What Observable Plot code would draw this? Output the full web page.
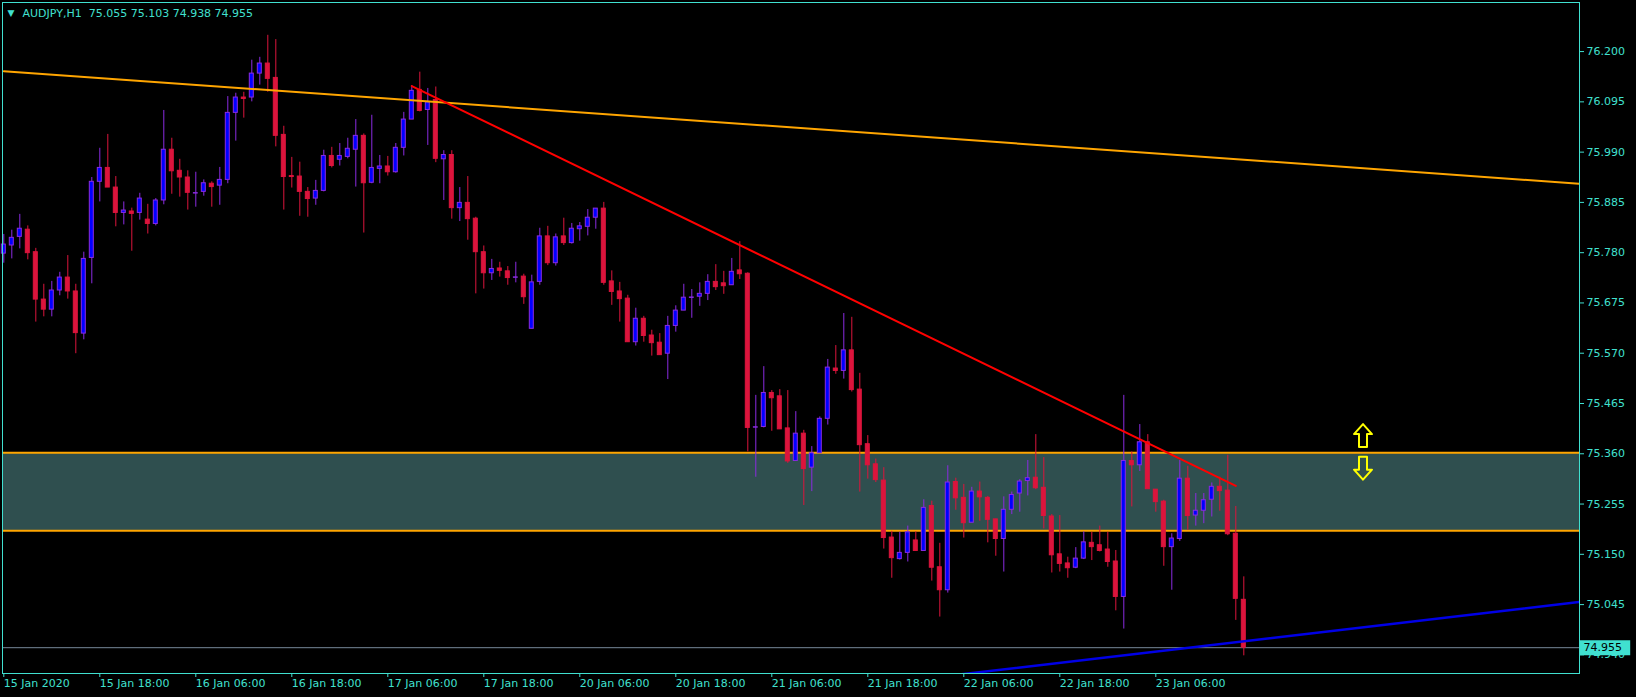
<!DOCTYPE html>
<html><head><meta charset="utf-8">
<script src="https://cdn.jsdelivr.net/npm/d3@7"></script>
<script src="https://cdn.jsdelivr.net/npm/@observablehq/plot@0.6"></script>
<style>
html,body{margin:0;padding:0;background:#000;overflow:hidden}
#chart{width:1636px;height:697px}
</style></head><body><div id="chart"></div>
<script>
// ---- data ----
const symbol = "AUDJPY,H1";
const opens = [75.778,75.795,75.813,75.828,75.781,75.682,75.661,75.701,75.728,75.699,75.611,75.769,75.928,75.957,75.916,75.863,75.866,75.863,75.849,75.840,
75.889,75.995,75.951,75.937,75.905,75.907,75.924,75.920,75.932,76.072,76.104,76.104,76.154,76.175,76.145,76.026,75.940,75.939,75.907,75.893,
75.909,75.982,75.974,75.980,75.995,76.024,75.926,75.955,75.960,75.948,75.999,76.058,76.120,76.078,76.099,75.975,75.984,75.873,75.884,75.851,
75.781,75.737,75.747,75.741,75.729,75.730,75.621,75.719,75.814,75.758,75.814,75.800,75.829,75.834,75.853,75.872,75.720,75.699,75.684,75.593,
75.642,75.607,75.592,75.569,75.627,75.659,75.687,75.688,75.694,75.719,75.716,75.712,75.743,75.736,75.416,75.416,75.487,75.480,75.413,75.345,
75.402,75.331,75.361,75.433,75.538,75.533,75.576,75.494,75.380,75.338,75.304,75.185,75.140,75.153,75.179,75.157,75.251,75.123,75.075,75.301,
75.268,75.216,75.281,75.268,75.223,75.182,75.243,75.277,75.303,75.310,75.289,75.229,75.150,75.131,75.122,75.141,75.174,75.169,75.160,75.135,
75.061,75.345,75.336,75.384,75.285,75.260,75.165,75.182,75.308,75.231,75.241,75.264,75.291,75.283,75.193,75.055];
const highs = [75.818,75.827,75.860,75.836,75.789,75.714,75.720,75.739,75.774,75.714,75.781,75.937,75.998,76.027,75.939,75.886,75.873,75.904,75.881,75.893,
76.077,76.019,75.975,75.951,75.948,75.932,75.928,75.958,76.106,76.113,76.115,76.182,76.188,76.234,76.225,76.044,75.979,75.969,75.916,75.931,
75.994,76.000,76.008,76.019,76.058,76.028,76.067,75.983,75.981,76.008,76.073,76.129,76.157,76.123,76.126,75.993,75.993,75.916,75.939,75.854,
75.794,75.766,75.760,75.751,75.760,75.735,75.733,75.831,75.835,75.819,75.852,75.841,75.843,75.870,75.872,75.885,75.742,75.718,75.691,75.664,
75.647,75.618,75.611,75.647,75.669,75.714,75.703,75.717,75.734,75.755,75.741,75.768,75.803,75.738,75.482,75.542,75.492,75.494,75.492,75.448,
75.409,75.375,75.437,75.557,75.586,75.653,75.645,75.528,75.398,75.349,75.331,75.198,75.196,75.209,75.197,75.264,75.261,75.173,75.335,75.309,
75.296,75.290,75.301,75.271,75.223,75.270,75.280,75.306,75.346,75.400,75.352,75.233,75.231,75.144,75.164,75.197,75.196,75.209,75.196,75.158,
75.482,75.364,75.421,75.400,75.285,75.263,75.193,75.346,75.334,75.277,75.277,75.299,75.311,75.357,75.250,75.103];
const lows = [75.758,75.767,75.788,75.765,75.635,75.646,75.646,75.690,75.683,75.569,75.598,75.715,75.886,75.916,75.834,75.838,75.783,75.848,75.819,75.836,
75.880,75.902,75.896,75.869,75.875,75.898,75.875,75.879,75.924,76.013,76.061,76.095,76.130,76.115,76.001,75.869,75.915,75.856,75.854,75.879,
75.907,75.957,75.961,75.976,75.917,75.821,75.924,75.924,75.940,75.946,75.982,76.058,76.074,76.004,75.968,75.889,75.850,75.845,75.806,75.694,
75.704,75.722,75.729,75.712,75.717,75.672,75.621,75.712,75.753,75.752,75.795,75.798,75.804,75.815,75.829,75.712,75.670,75.635,75.593,75.585,
75.593,75.564,75.566,75.515,75.614,75.659,75.643,75.668,75.680,75.701,75.693,75.712,75.724,75.364,75.311,75.414,75.407,75.411,75.340,75.345,
75.252,75.281,75.361,75.420,75.526,75.516,75.489,75.280,75.307,75.300,75.161,75.100,75.138,75.134,75.157,75.157,75.094,75.019,75.069,75.242,
75.184,75.216,75.219,75.174,75.146,75.113,75.233,75.238,75.272,75.285,75.203,75.111,75.113,75.100,75.120,75.139,75.137,75.155,75.123,75.032,
74.994,75.249,75.323,75.286,75.238,75.125,75.075,75.177,75.200,75.209,75.214,75.228,75.240,75.189,75.012,74.938];
const closes = [75.797,75.811,75.830,75.779,75.682,75.661,75.701,75.728,75.699,75.612,75.767,75.928,75.957,75.916,75.863,75.868,75.861,75.893,75.840,75.889,
75.995,75.950,75.937,75.905,75.905,75.925,75.917,75.932,76.072,76.104,76.101,76.154,76.175,76.143,76.024,75.938,75.938,75.907,75.892,75.909,
75.982,75.961,75.982,75.997,76.024,75.925,75.957,75.960,75.948,75.999,76.058,76.118,76.076,76.094,75.976,75.984,75.873,75.884,75.850,75.781,
75.737,75.746,75.742,75.727,75.729,75.687,75.718,75.814,75.758,75.812,75.800,75.830,75.835,75.853,75.872,75.717,75.698,75.683,75.593,75.642,
75.606,75.591,75.566,75.627,75.659,75.686,75.687,75.694,75.719,75.708,75.710,75.740,75.735,75.414,75.416,75.487,75.476,75.411,75.344,75.402,
75.328,75.361,75.433,75.540,75.533,75.576,75.493,75.378,75.336,75.305,75.184,75.142,75.153,75.196,75.157,75.247,75.122,75.075,75.300,75.267,
75.215,75.281,75.269,75.222,75.182,75.243,75.274,75.302,75.309,75.288,75.230,75.148,75.130,75.121,75.141,75.175,75.165,75.157,75.134,75.061,
75.345,75.336,75.384,75.286,75.259,75.165,75.183,75.308,75.230,75.241,75.263,75.291,75.282,75.192,75.057,74.955];

const timeTickBars = [0,12,24,36,48,60,72,84,96,108,120,132,144];
const timeLabels = ["15 Jan 2020","15 Jan 18:00","16 Jan 06:00","16 Jan 18:00","17 Jan 06:00","17 Jan 18:00",
  "20 Jan 06:00","20 Jan 18:00","21 Jan 06:00","21 Jan 18:00","22 Jan 06:00","22 Jan 18:00","23 Jan 06:00"];
const priceTicks = [76.200,76.095,75.990,75.885,75.780,75.675,75.570,75.465,75.360,75.255,75.150,75.045,74.940];

const zoneLow = 75.199, zoneHigh = 75.362;
const bidPrice = 74.955;
const orangeTrendBars = [0, 197], orangeTrendPrices = [76.159, 75.924];
const redTrendBars = [51, 154], redTrendPrices = [76.128, 75.293];
const blueTrendBars = [119.3, 197], blueTrendPrices = [74.8987, 75.0505];
const arrowBars = [169.9, 169.9], arrowPrices = [75.398, 75.330], arrowDirs = ["up", "down"];

// ---- drawing ----
const FG = "#40E0D0", UP_BODY = "#0000FF", UP_LINE = "#8A2BE2", DN = "#DC143C";
const xDomain = [-0.1625, 196.9625];
const yDomain = [74.9011, 76.3025];
const candles = opens.map((o, i) => ({i, o, h: highs[i], l: lows[i], c: closes[i], up: closes[i] >= o}));
const orangePts = orangeTrendBars.map((b, k) => ({b, p: orangeTrendPrices[k]}));
const redPts = redTrendBars.map((b, k) => ({b, p: redTrendPrices[k]}));
const bluePts = blueTrendBars.map((b, k) => ({b, p: blueTrendPrices[k]}));
const arrows = arrowBars.map((b, k) => ({b, p: arrowPrices[k], rot: arrowDirs[k] === "up" ? 0 : 180}));
const title = `${symbol}  ${opens.at(-1).toFixed(3)} ${highs.at(-1).toFixed(3)} ${lows.at(-1).toFixed(3)} ${closes.at(-1).toFixed(3)}`;

const hollowArrow = {
  draw(ctx, l) {
    const hw = 9, sw = 4, hh = 10;
    ctx.moveTo(0, -l);
    ctx.lineTo(hw, -l + hh);
    ctx.lineTo(sw, -l + hh);
    ctx.lineTo(sw, 0);
    ctx.lineTo(-sw, 0);
    ctx.lineTo(-sw, -l + hh);
    ctx.lineTo(-hw, -l + hh);
    ctx.closePath();
  }
};

const chart = Plot.plot({
  width: 1636, height: 697,
  marginLeft: 2, marginRight: 57, marginTop: 2, marginBottom: 24,
  style: {background: "#000", color: FG, fontFamily: "DejaVu Sans", fontSize: "11px"},
  x: {type: "linear", domain: xDomain, axis: null},
  y: {type: "linear", domain: yDomain, axis: null},
  marks: [
    Plot.rect([{lo: zoneLow, hi: zoneHigh}], {y1: "lo", y2: "hi", fill: "#2F4F4F"}),
    Plot.ruleY([zoneLow, zoneHigh], {stroke: "#FFA500", strokeWidth: 2}),
    Plot.ruleY([bidPrice], {stroke: "#778899", strokeWidth: 1}),
    Plot.ruleX(candles, {x: "i", y1: "l", y2: "h", stroke: d => d.up ? UP_LINE : DN, strokeWidth: 1}),
    Plot.rect(candles.filter(d => d.o !== d.c), {x1: d => d.i - 0.25, x2: d => d.i + 0.25, y1: "o", y2: "c",
      fill: d => d.up ? UP_BODY : DN, stroke: d => d.up ? UP_LINE : DN, strokeWidth: 1}),
    Plot.ruleY(candles.filter(d => d.o === d.c), {y: "o", x1: d => d.i - 0.3, x2: d => d.i + 0.3, stroke: UP_LINE, strokeWidth: 1.5}),
    Plot.line(orangePts, {x: "b", y: "p", stroke: "#FFA500", strokeWidth: 2, clip: true}),
    Plot.line(redPts, {x: "b", y: "p", stroke: "#FF0000", strokeWidth: 2, clip: true}),
    Plot.line(bluePts, {x: "b", y: "p", stroke: "#0000E6", strokeWidth: 2.5, clip: true}),
    Plot.vector(arrows, {x: "b", y: "p", length: 23, rotate: "rot", anchor: "middle", shape: hollowArrow,
      stroke: "#FFFF00", strokeWidth: 2, fill: "none"}),
    Plot.frame({stroke: FG}),
    Plot.axisY(priceTicks, {anchor: "right", tickSize: 4, tickPadding: 3, tickFormat: d => d.toFixed(3), color: FG, fontSize: 11}),
    Plot.axisX(timeTickBars, {anchor: "bottom", tickSize: 4, tickPadding: 2, textAnchor: "start",
      tickFormat: d => timeLabels[timeTickBars.indexOf(d)], color: FG, fontSize: 11}),
    Plot.ruleY([bidPrice], {x1: xDomain[1] + 0.12, x2: xDomain[1] + 6.4, stroke: FG, strokeWidth: 15}),
    Plot.text([bidPrice], {y: d => d, frameAnchor: "right", dx: 4, textAnchor: "start", text: d => d.toFixed(3), fill: "#000", fontSize: 11}),
    Plot.text(["▼"], {frameAnchor: "top-left", dx: 5, dy: 11, lineAnchor: "middle", textAnchor: "start", fill: FG, fontSize: 9}),
    Plot.text([title], {frameAnchor: "top-left", dx: 20, dy: 11, lineAnchor: "middle", textAnchor: "start", fill: FG, fontSize: 11})
  ]
});
document.getElementById("chart").appendChild(chart);
</script></body></html>
